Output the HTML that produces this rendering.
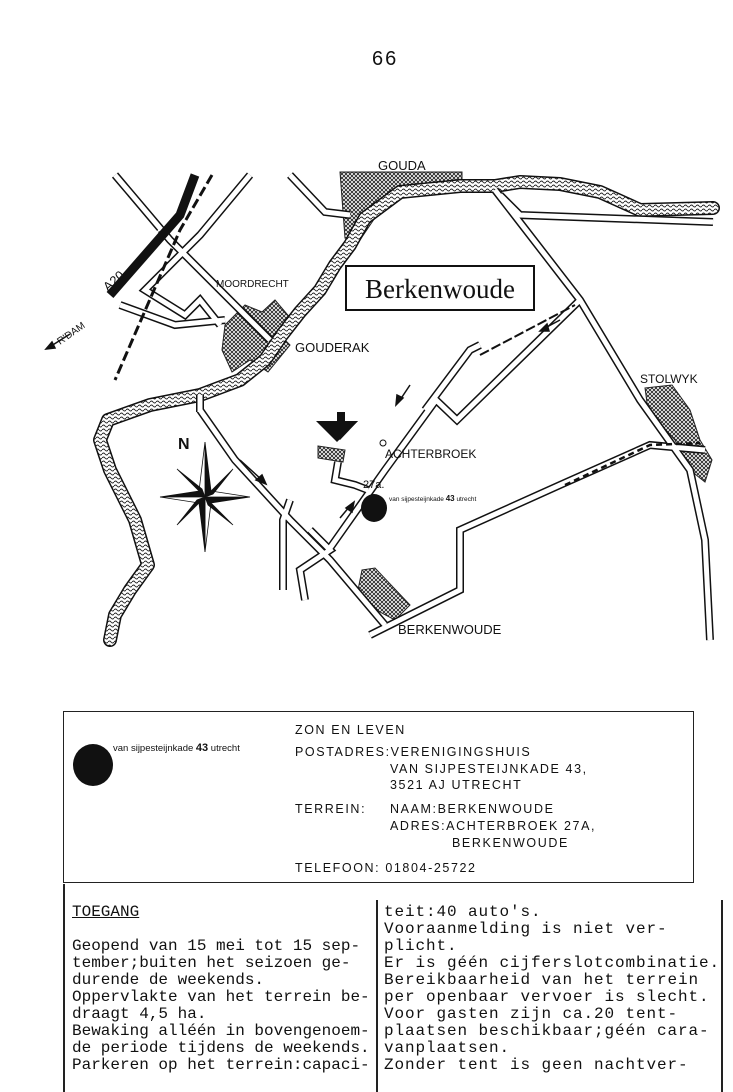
<!DOCTYPE html>
<html><head><meta charset="utf-8">
<style>
html,body{margin:0;padding:0;background:#fff;}
body{width:733px;height:1092px;position:relative;overflow:hidden;font-family:"Liberation Sans",sans-serif;color:#111;}
.abs{position:absolute;white-space:pre;}
.tw{font-family:"Liberation Sans",sans-serif;font-size:12.5px;letter-spacing:1.6px;}
.mono{font-family:"Liberation Mono",monospace;font-size:16px;line-height:17px;}
</style></head><body>
<div class="abs" style="left:372px;top:48px;font-size:20px;font-family:'Liberation Sans',sans-serif;letter-spacing:2px;">66</div>

<svg width="733" height="700" style="position:absolute;left:0;top:0" xmlns="http://www.w3.org/2000/svg">
<defs>
<pattern id="hatch" width="4" height="4" patternUnits="userSpaceOnUse">
<rect width="4" height="4" fill="#fff"/><path d="M0 0L4 4M4 0L0 4" stroke="#222" stroke-width="0.9"/>
</pattern>
<pattern id="wave" width="6" height="4" patternUnits="userSpaceOnUse">
<rect width="6" height="4" fill="#fff"/><path d="M0 2Q1.5 0 3 2T6 2" stroke="#222" stroke-width="0.9" fill="none"/>
</pattern>
</defs>
<g fill="url(#hatch)" stroke="#222" stroke-width="1">
<polygon points="340,172 462,172 462,185 395,188 360,240 345,238"/>
<polygon points="225,325 245,305 262,312 275,300 292,320 280,335 290,345 268,372 250,360 232,372 222,350"/>
<polygon points="645,388 672,385 690,410 700,440 712,460 705,482 690,470 675,440 648,410"/>
<polygon points="362,570 375,568 410,605 395,620 380,612 357,595"/>
<polygon points="318,446 345,450 343,462 318,458"/>
</g>
<g fill="none" stroke-linejoin="round" stroke-linecap="round">
<path d="M713,208 L640,210 L600,192 L560,184 L520,182 L495,186 L460,186 L400,192 L365,218 L350,245 L335,265 L320,290 L300,312 L282,335 L265,360 L240,380 L200,395 L150,405 L108,420 L100,440 L110,470 L135,520 L148,565 L130,590 L115,615 L110,640" stroke="#111" stroke-width="14"/>
<path d="M713,208 L640,210 L600,192 L560,184 L520,182 L495,186 L460,186 L400,192 L365,218 L350,245 L335,265 L320,290 L300,312 L282,335 L265,360 L240,380 L200,395 L150,405 L108,420 L100,440 L110,470 L135,520 L148,565 L130,590 L115,615 L110,640" stroke="url(#wave)" stroke-width="11"/>
</g>
<g fill="none" stroke-linejoin="miter">
<g stroke="#111" stroke-width="8">
<path d="M495,190 L580,300 L640,400 L690,470 L705,540 L710,640"/>
<path d="M500,195 L520,215 L713,222"/>
<path d="M290,175 L325,212 L350,215"/>
<path d="M115,175 L170,240 L220,290 L270,340"/>
<path d="M250,175 L200,235 L145,290 L185,315 L200,300 L220,325"/>
<path d="M225,320 L175,325 L120,305"/>
<path d="M200,410 L235,460 L290,520 L330,560 L385,625"/>
<path d="M330,548 L385,470 L436,400 L457,420 L580,300"/>
<path d="M425,410 L470,350 L480,345"/>
<path d="M290,500 L283,520 L283,590"/>
<path d="M310,530 L330,550 L300,570 L305,600"/>
<path d="M370,635 L460,590 L460,530 L560,485 L650,445 L705,450"/>
<path d="M338,462 L335,480 L355,485 L368,490"/>
<path d="M200,395 L200,412"/>
</g>
<g stroke="#fff" stroke-width="5">
<path d="M495,190 L580,300 L640,400 L690,470 L705,540 L710,640"/>
<path d="M500,195 L520,215 L713,222"/>
<path d="M290,175 L325,212 L350,215"/>
<path d="M115,175 L170,240 L220,290 L270,340"/>
<path d="M250,175 L200,235 L145,290 L185,315 L200,300 L220,325"/>
<path d="M225,320 L175,325 L120,305"/>
<path d="M200,410 L235,460 L290,520 L330,560 L385,625"/>
<path d="M330,548 L385,470 L436,400 L457,420 L580,300"/>
<path d="M425,410 L470,350 L480,345"/>
<path d="M290,500 L283,520 L283,590"/>
<path d="M310,530 L330,550 L300,570 L305,600"/>
<path d="M370,635 L460,590 L460,530 L560,485 L650,445 L705,450"/>
<path d="M338,462 L335,480 L355,485 L368,490"/>
<path d="M200,395 L200,412"/>
</g>
<path d="M480,355 L575,305" stroke="#111" stroke-width="2" stroke-dasharray="10,3"/>
<path d="M565,485 L650,445 L700,443" stroke="#111" stroke-width="2.5" stroke-dasharray="6,4"/>
</g>
<path d="M195,175 L180,215 L110,295" stroke="#111" stroke-width="9" fill="none"/>
<path d="M188,175 L175,212 L106,290" stroke="#fff" stroke-width="1.5" fill="none" stroke-dasharray="6,4"/>
<path d="M212,175 L180,230 L115,380" stroke="#111" stroke-width="3" fill="none" stroke-dasharray="10,4"/>
<g stroke="#111" stroke-width="1.5" fill="#111">
<path d="M240,460 L262,480" fill="none"/><polygon points="266,484 256,480 262,475"/>
<path d="M340,518 L350,506" fill="none"/><polygon points="354,502 352,512 346,508"/>
<path d="M410,385 L400,400" fill="none"/><polygon points="396,405 397,395 403,398"/>
<path d="M560,320 L545,328" fill="none"/><polygon points="540,331 547,324 549,331"/>
<path d="M48,348 L70,334" fill="none"/><polygon points="46,349 52,342 55,348"/>
</g>
<polygon points="322,421 337,421 337,412 345,412 345,421 358,421 340,440" fill="#111"/>
<polygon points="316,421 358,421 337,442" fill="#111"/>
<ellipse cx="374" cy="508" rx="13" ry="14" fill="#111"/>
<g transform="translate(205,497)" fill="#111" stroke="#111" stroke-width="0.8">
<polygon points="0,-55 6,-6 0,0"/><polygon points="0,-55 -6,-6 0,0" fill="#fff"/>
<polygon points="0,55 6,6 0,0" fill="#fff"/><polygon points="0,55 -6,6 0,0"/>
<polygon points="-45,0 -6,-6 0,0"/><polygon points="-45,0 -6,6 0,0" fill="#fff"/>
<polygon points="45,0 6,6 0,0"/><polygon points="45,0 6,-6 0,0" fill="#fff"/>
<polygon points="-28,-28 -3,-8 0,0"/><polygon points="28,-28 8,-3 0,0"/>
<polygon points="28,28 3,8 0,0"/><polygon points="-28,28 -8,3 0,0"/>
</g>
<rect x="346" y="266" width="188" height="44" fill="#fff" stroke="#111" stroke-width="2"/>
<text x="440" y="298" text-anchor="middle" font-family="Liberation Serif, serif" font-size="27" fill="#111">Berkenwoude</text>
<g font-family="Liberation Sans, sans-serif" fill="#111">
<text x="378" y="170" font-size="13">GOUDA</text>
<text x="216" y="287" font-size="10">MOORDRECHT</text>
<text x="295" y="352" font-size="13">GOUDERAK</text>
<text x="640" y="383" font-size="12">STOLWYK</text>
<text x="385" y="458" font-size="12">ACHTERBROEK</text>
<text x="363" y="488" font-size="11">27a.</text>
<text x="398" y="634" font-size="13">BERKENWOUDE</text>
<text x="178" y="449" font-size="16" font-weight="bold">N</text>
<text x="389" y="501" font-size="6.5">van sijpesteijnkade <tspan font-weight="bold" font-size="8">43</tspan> utrecht</text>
<text x="108" y="292" font-size="13" transform="rotate(-42 108 292)">A20</text>
<text x="60" y="345" font-size="10" transform="rotate(-35 60 345)">R'DAM</text>
</g>
<circle cx="383" cy="443" r="3" fill="none" stroke="#111"/>
</svg>

<div style="position:absolute;left:63px;top:711px;width:629px;height:170px;border:1.5px solid #222;"></div>
<div style="position:absolute;left:73px;top:744px;width:40px;height:42px;border-radius:50%;background:#111;"></div>
<div class="abs" style="left:113px;top:742px;font-size:9.5px;">van sijpesteijnkade <b style="font-size:11px">43</b> utrecht</div>
<div class="abs tw" style="left:295px;top:723px;">ZON EN LEVEN</div>
<div class="abs tw" style="left:295px;top:745px;">POSTADRES:VERENIGINGSHUIS</div>
<div class="abs tw" style="left:390px;top:762px;">VAN SIJPESTEIJNKADE 43,</div>
<div class="abs tw" style="left:390px;top:778px;">3521 AJ UTRECHT</div>
<div class="abs tw" style="left:295px;top:802px;">TERREIN:</div>
<div class="abs tw" style="left:390px;top:802px;">NAAM:BERKENWOUDE</div>
<div class="abs tw" style="left:390px;top:819px;">ADRES:ACHTERBROEK 27A,</div>
<div class="abs tw" style="left:452px;top:836px;">BERKENWOUDE</div>
<div class="abs tw" style="left:295px;top:861px;">TELEFOON: 01804-25722</div>

<div style="position:absolute;left:63px;top:884px;width:1.5px;height:208px;background:#222;"></div>
<div style="position:absolute;left:376px;top:900px;width:1.5px;height:192px;background:#222;"></div>
<div style="position:absolute;left:721px;top:900px;width:1.5px;height:192px;background:#222;"></div>
<div class="abs mono" style="left:72px;top:904px;"><span style="text-decoration:underline">TOEGANG</span>

Geopend van 15 mei tot 15 sep-
tember;buiten het seizoen ge-
durende de weekends.
Oppervlakte van het terrein be-
draagt 4,5 ha.
Bewaking alléén in bovengenoem-
de periode tijdens de weekends.
Parkeren op het terrein:capaci-</div>
<div class="abs mono" style="left:384px;top:904px;letter-spacing:0.9px;">teit:40 auto's.
Vooraanmelding is niet ver-
plicht.
Er is géén cijferslotcombinatie.
Bereikbaarheid van het terrein
per openbaar vervoer is slecht.
Voor gasten zijn ca.20 tent-
plaatsen beschikbaar;géén cara-
vanplaatsen.
Zonder tent is geen nachtver-</div>
</body></html>
